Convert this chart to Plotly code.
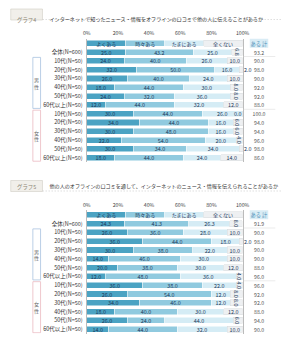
import plotly.graph_objects as go

W, H = 290, 343
S = 2  # figure is laid out at S x size and scaled back with CSS for crisp small text

categories = ["よくある", "時々ある", "たまにある", "全くない"]
row_labels = ["全体(N=600)",
              "10代(N=50)", "20代(N=50)", "30代(N=50)", "40代(N=50)", "50代(N=50)", "60代以上(N=50)",
              "10代(N=50)", "20代(N=50)", "30代(N=50)", "40代(N=50)", "50代(N=50)", "60代以上(N=50)"]
groups = ["男性", "女性"]
total_header = "ある 計"

titles = ["インターネットで知ったニュース・情報をオフラインの口コミで他の人に伝えることがあるか",
          "他の人のオフラインの口コミを通して、インターネットのニュース・情報を伝えられることがあるか"]
tags = ["グラフ4", "グラフ5"]

g4_often = [25.0, 24.0, 32.0, 26.0, 18.0, 24.0, 12.0, 30.0, 34.0, 30.0, 22.0, 30.0, 18.0]
g4_sometimes = [43.2, 40.0, 50.0, 40.0, 44.0, 32.0, 44.0, 44.0, 44.0, 48.0, 54.0, 34.0, 44.0]
g4_rarely = [25.0, 26.0, 16.0, 24.0, 30.0, 36.0, 32.0, 26.0, 16.0, 16.0, 20.0, 34.0, 24.0]
g4_never = [6.8, 10.0, 2.0, 10.0, 8.0, 8.0, 12.0, 0.0, 6.0, 6.0, 4.0, 2.0, 14.0]
g4_total = [93.2, 90.0, 98.0, 90.0, 92.0, 92.0, 88.0, 100.0, 94.0, 94.0, 96.0, 98.0, 86.0]

g5_often = [24.3, 26.0, 36.0, 30.0, 14.0, 20.0, 12.0, 36.0, 26.0, 34.0, 18.0, 26.0, 14.0]
g5_sometimes = [41.3, 36.0, 44.0, 38.0, 46.0, 38.0, 48.0, 38.0, 54.0, 46.0, 40.0, 24.0, 44.0]
g5_rarely = [26.3, 28.0, 18.0, 22.0, 30.0, 30.0, 36.0, 22.0, 12.0, 12.0, 30.0, 44.0, 32.0]
g5_never = [8.0, 10.0, 2.0, 10.0, 10.0, 12.0, 4.0, 4.0, 8.0, 8.0, 12.0, 6.0, 10.0]
g5_total = [91.9, 90.0, 98.0, 90.0, 90.0, 88.0, 96.0, 96.0, 92.0, 92.0, 88.0, 94.0, 90.0]

tick_vals = [0, 20, 40, 60, 80, 100]
tick_text = ["0%", "20%", "40%", "60%", "80%", "100%"]

colors = ["#4ba3c3", "#90cadf", "#d5ecf5", "#eef0f2"]
edge_colors = ["#ffffff", "#ffffff", "#ffffff", "#d6dadc"]
text_color = "#1c3a5c"
FONT = "Noto Sans CJK JP"

panels = [
    (tags[0], titles[0], [g4_often, g4_sometimes, g4_rarely, g4_never], g4_total),
    (tags[1], titles[1], [g5_often, g5_sometimes, g5_rarely, g5_never], g5_total),
]


def px_x(x):
    return x / W


def px_y(y):
    return 1 - y / H


def f(size, color):
    return dict(size=size * S, color=color, family=FONT)


fig = go.Figure()
shapes = []
annotations = []

positions = list(range(1, len(row_labels) + 1))
X0, X1 = 86, 248
PITCH = 8.8
OFFSET = 171.5

for p, (tag, title, series, totals) in enumerate(panels):
    off = p * OFFSET
    xa = "x" if p == 0 else "x2"
    ya = "y" if p == 0 else "y2"
    share = 100 / len(categories)
    for i, cat in enumerate(categories):
        fig.add_trace(go.Bar(
            x=[share], y=[0], orientation="h", xaxis=xa, yaxis=ya,
            marker=dict(color=colors[i], line=dict(color=edge_colors[i], width=0.5 * S)),
            text=[cat], textposition="inside", insidetextanchor="middle",
            constraintext="none", textfont=f(5.0, text_color),
            showlegend=False, hoverinfo="skip"))
    for i, vals in enumerate(series):
        if i == len(series) - 1:
            tpos = ["inside" if v >= 4 else ("outside" if v > 0 else "none") for v in vals]
        else:
            tpos = "inside"
        fig.add_trace(go.Bar(
            x=vals, y=positions, orientation="h", xaxis=xa, yaxis=ya,
            name=categories[i],
            marker=dict(color=colors[i], line=dict(color=edge_colors[i], width=0.5 * S)),
            text=[f"{v:.1f}" for v in vals], textposition=tpos,
            insidetextanchor="middle", constraintext="none", cliponaxis=False,
            textfont=f(5.4, text_color), showlegend=False, hoverinfo="skip"))
    for pos, v in zip(positions, series[-1]):
        if v == 0:
            annotations.append(dict(x=100, y=pos, xref=xa, yref=ya, text=f"{v:.1f}",
                                    showarrow=False, xanchor="right",
                                    font=f(5.4, text_color)))
    annotations.append(dict(x=px_x(265), y=0, xref="paper", yref=ya, text=total_header,
                            showarrow=False, xanchor="center", bgcolor="#d9ecf5",
                            font=f(5.2, "#4a90b8"), borderpad=0.5 * S))
    for pos, t in zip(positions, totals):
        annotations.append(dict(x=px_x(265), y=pos, xref="paper", yref=ya, text=f"{t:.1f}",
                                showarrow=False, xanchor="center", font=f(5.2, "#555555")))
    for yy in (1.5, 7.5):
        shapes.append(dict(type="line", xref="paper", yref=ya, x0=px_x(249), x1=px_x(282),
                           y0=yy, y1=yy, line=dict(color="#dddddd", width=0.6 * S)))
    for g, (gname, lc) in enumerate(zip(groups, ["#a9c3e0", "#ebbac2"])):
        y0 = 1.6 + g * 6
        y1 = 7.4 + g * 6
        shapes.append(dict(type="rect", xref="paper", yref=ya, x0=px_x(30), x1=px_x(38),
                           y0=y0, y1=y1, line=dict(color=lc, width=0.8 * S), fillcolor="white"))
        annotations.append(dict(x=px_x(34), y=(y0 + y1) / 2, xref="paper", yref=ya,
                                text="<br>".join(list(gname)), showarrow=False,
                                xanchor="center", font=f(5.0, "#666666")))
    shapes.append(dict(type="rect", xref="paper", yref="paper",
                       x0=px_x(7), x1=px_x(40), y0=px_y(9 + off), y1=px_y(20 + off),
                       line=dict(color="#d0cdc4", width=0.6 * S), fillcolor="#f1efea"))
    shapes.append(dict(type="line", xref="paper", yref="paper",
                       x0=px_x(40), x1=px_x(289), y0=px_y(19.5 + off), y1=px_y(19.5 + off),
                       line=dict(color="#c8c8c8", width=0.6 * S, dash="dot")))
    annotations.append(dict(x=px_x(23.5), y=px_y(14.5 + off), xref="paper", yref="paper",
                            text=tag, showarrow=False, xanchor="center",
                            font=f(5.4, "#8c8676")))
    annotations.append(dict(x=px_x(46), y=px_y(14 + off), xref="paper", yref="paper",
                            text=title, showarrow=False, xanchor="left",
                            font=f(5.1, "#333333")))

top1 = 43.3 - 0.5 * PITCH
bot1 = 43.3 + 13.5 * PITCH


def ydom(off):
    return [px_y(bot1 + off), px_y(top1 + off)]


xcommon = dict(range=[0, 100], domain=[px_x(X0), px_x(X1)], side="top",
               tickvals=tick_vals, ticktext=tick_text, showgrid=False, zeroline=False,
               ticks="", tickfont=f(5.2, "#444444"), ticklabelstandoff=2 * S,
               showline=False, fixedrange=True)
ycommon = dict(range=[13.5, -0.5], tickvals=positions, ticktext=row_labels,
               showgrid=False, zeroline=False, ticks="", showline=True, mirror=True,
               linecolor="#bbbbbb", linewidth=0.8 * S, ticklabelstandoff=2 * S,
               tickfont=f(5.5, "#333333"), fixedrange=True)

fig.update_layout(
    width=W * S, height=H * S, margin=dict(l=0, r=0, t=0, b=0),
    paper_bgcolor="white", plot_bgcolor="white",
    barmode="stack", bargap=0.3,
    xaxis=dict(anchor="y", **xcommon),
    xaxis2=dict(anchor="y2", **xcommon),
    yaxis=dict(anchor="x", domain=ydom(0), **ycommon),
    yaxis2=dict(anchor="x2", domain=ydom(OFFSET), **ycommon),
    shapes=shapes, annotations=annotations,
    font=dict(family=FONT),
)

post = (
    "var gd=document.getElementById('{plot_id}');"
    "gd.style.transformOrigin='0 0';"
    "gd.style.transform='scale(%s)';"
    "document.documentElement.style.overflow='hidden';"
    "document.body.style.overflow='hidden';"
    "document.body.style.margin='0';" % (1 / S)
)

fig.write_html("out.html", post_script=post)
